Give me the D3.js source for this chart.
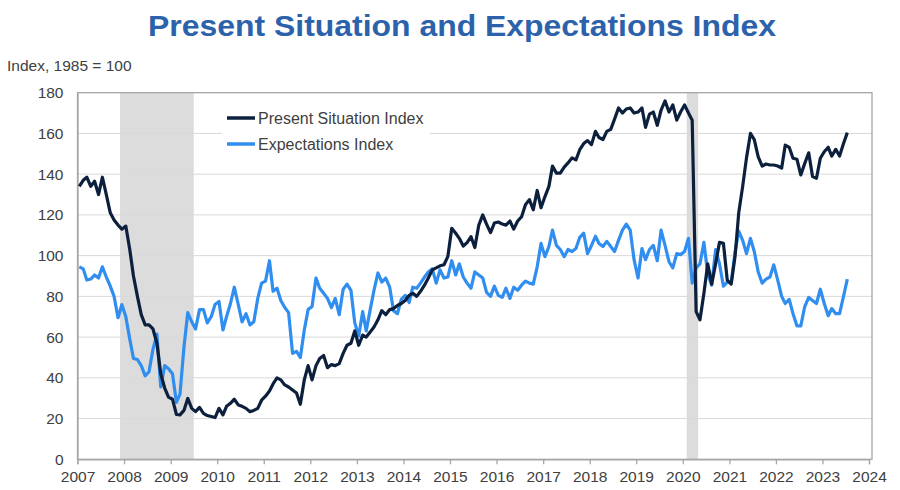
<!DOCTYPE html>
<html>
<head>
<meta charset="utf-8">
<script src="https://cdn.jsdelivr.net/npm/d3@7"></script>
<style>
  body { margin: 0; background: #fff; }
  svg { font-family: "Liberation Sans", Arial, sans-serif; }
</style>
</head>
<body>
<svg width="900" height="490"></svg>
<script>
// monthly values, Jan 2007 .. Jul 2023 (one row per year)
const startYear = 2007;

const presentSituation = [
  134, 137, 138.5, 134, 136.5, 130, 138.5, 130, 121, 117.5, 115, 113,
  114.5, 103, 90, 80, 71, 66, 66, 64, 57, 42, 35, 30.5,
  29.5, 22, 21.8, 24, 29.9, 25, 23.4, 25.5, 22.6, 21.5, 21, 20.5,
  25, 21.8, 26, 27.5, 29.5, 26.7, 26, 25, 23.4, 24, 25, 29,
  31, 33.5, 37, 40, 39, 36.5, 35.5, 34, 32.5, 27, 39, 46,
  39, 46, 49.5, 51, 45, 46.5, 46, 47, 52, 56, 57, 63,
  56, 61, 60, 62.5, 65, 68.5, 73, 71, 73.5, 74, 75.5, 76.5,
  78, 80.5, 81.5, 80, 82.5, 85.5, 89, 93, 94, 95, 95.5, 99.5,
  113.4, 111, 108.5, 104.7, 106.4, 109.3, 104, 115, 120, 115.5, 111.3, 116,
  116.5, 115.5, 115, 117, 113, 117, 119, 125, 127.5, 122.5, 132, 123.5,
  129, 134, 144, 140.5, 140.5, 143.5, 145.5, 148, 147, 152, 155, 156.5,
  154.5, 161, 158, 157, 161, 162, 167, 172.5, 170, 172, 172.5, 170,
  170.5, 172.5, 163, 169.5, 170.5, 164, 171.5, 176, 170.5, 174, 166.5, 170.5,
  174, 170, 166.5, 72.5, 68.5, 81.5, 96, 86, 96, 106.5, 106, 88,
  86, 100, 121, 134, 148, 160, 157, 148.5, 144, 145, 144.5, 144.5,
  144, 143, 154.3, 153.2, 147.8, 147.3, 139.6, 145.3, 150.5, 138.8, 138, 147.8,
  151, 153.2, 148.9, 152.2, 148.9, 155.1, 160.4
];

const expectations = [
  94.5, 93.5, 88, 88.5, 90.5, 89, 94.5, 89.5, 85, 80, 69.5, 76,
  70, 59, 49.5, 49, 46, 41, 43, 54, 61.5, 35.5, 46, 44.5,
  42, 28, 32, 55, 72, 67.5, 64, 73.5, 73.5, 67, 70, 76,
  77.5, 63.5, 70, 76.5, 84.5, 76, 67.5, 71.5, 66, 67.5, 79, 86.5,
  87.5, 97.5, 82.5, 84, 78, 74.5, 72, 52, 53, 50, 63.5, 73.5,
  75, 89, 84, 81.5, 79, 74.5, 79, 71, 83.5, 86, 83, 67,
  60.5, 72.5, 63, 73.5, 83, 91.5, 87, 89, 84.5, 73, 71.5, 78.5,
  80.5, 77, 84.5, 84, 86.5, 89.5, 92, 93.5, 86.5, 93, 89, 89.5,
  97.5, 90.5, 96, 89.5, 86.5, 84, 92, 90.5, 89, 82, 80, 85,
  80.5, 79.5, 84, 79, 84.5, 83, 85.5, 87.5, 86.5, 86, 94.5, 106,
  99.5, 104.5, 112.5, 105, 103, 99.5, 103, 102, 103.5, 109, 111, 101,
  105, 109.5, 106, 104.5, 107, 104.5, 102, 107.5, 112.5, 115.5, 112.5, 98,
  89, 103.5, 98, 103, 105, 97.5, 112.5, 105, 97, 94, 101, 100.5,
  102, 108.5, 86.5, 94, 96, 106.5, 91, 85.5, 103, 96, 85, 87,
  87, 102, 112, 107.5, 101, 108.5, 102, 92, 86.5, 88.5, 89.5, 95.5,
  88, 80, 76.5, 78.5, 71.5, 65.5, 65.5, 75, 79.5, 78, 76.5, 83.5,
  76.5, 70.5, 74, 71.5, 71.5, 80, 88.5
];

// recessions [start, end] as "YYYY-MM" (inclusive months)
const recessions = [["2007-12", "2009-06"], ["2020-02", "2020-04"]];

const yTicks = [0, 20, 40, 60, 80, 100, 120, 140, 160, 180];
const seriesNames = ["Present Situation Index", "Expectations Index"];
const seriesColors = ["#0c203d", "#2f8ef0"];

const svg = d3.select("svg");

const plotL = 77.5, plotR = 869, plotT = 92.7, plotB = 459.3, frameR = 872;

const x = d3.scaleTime()
  .domain([new Date(2007, 0, 1), new Date(2024, 0, 1)])
  .range([plotL, plotR]);
const y = d3.scaleLinear().domain([0, 180]).range([plotB, plotT]);

const monthDate = i => new Date(startYear + Math.floor(i / 12), i % 12, 15);
const parseMonth = d3.timeParse("%Y-%m");

// title
svg.append("text")
  .attr("x", 462).attr("y", 36)
  .attr("text-anchor", "middle")
  .attr("font-size", 30).attr("font-weight", "bold")
  .attr("fill", "#2c62ab")
  .attr("textLength", 628).attr("lengthAdjust", "spacingAndGlyphs")
  .text("Present Situation and Expectations Index");

svg.append("text")
  .attr("x", 7).attr("y", 71)
  .attr("font-size", 15.5).attr("fill", "#404040")
  .text("Index, 1985 = 100");

// recession bars
svg.append("g").selectAll("rect")
  .data(recessions)
  .join("rect")
    .attr("x", d => x(parseMonth(d[0])))
    .attr("width", d => x(d3.timeMonth.offset(parseMonth(d[1]), 1)) - x(parseMonth(d[0])))
    .attr("y", plotT).attr("height", plotB - plotT)
    .attr("fill", "#dcdcdc");

// gridlines
svg.append("g").selectAll("line")
  .data(yTicks.filter(d => d > 0 && d < 180))
  .join("line")
    .attr("x1", plotL).attr("x2", frameR)
    .attr("y1", d => y(d)).attr("y2", d => y(d))
    .attr("stroke", "#d9d9d9").attr("stroke-width", 1);

// frame
svg.append("rect")
  .attr("x", plotL).attr("y", plotT)
  .attr("width", frameR - plotL).attr("height", plotB - plotT)
  .attr("fill", "none").attr("stroke", "#a6a6a6").attr("stroke-width", 1.3);

// axes
const xAxis = svg.append("g")
  .attr("transform", `translate(0,${plotB})`)
  .call(d3.axisBottom(x).ticks(d3.timeYear.every(1)).tickFormat(d3.timeFormat("%Y")).tickSize(5).tickPadding(7));
const yAxis = svg.append("g")
  .attr("transform", `translate(${plotL},0)`)
  .call(d3.axisLeft(y).tickValues(yTicks).tickSize(0).tickPadding(14));

[xAxis, yAxis].forEach(g => {
  g.select(".domain").attr("stroke", "#a6a6a6").attr("stroke-width", 1.3);
  g.selectAll(".tick line").attr("stroke", "#a6a6a6").attr("stroke-width", 1.3);
  g.selectAll("text").attr("font-size", 15.5).attr("fill", "#404040")
    .attr("font-family", "Liberation Sans, Arial, sans-serif");
});

// lines
const line = d3.line()
  .x((d, i) => x(monthDate(i)))
  .y(d => y(d));

[expectations, presentSituation].forEach((s, k) => {
  svg.append("path")
    .datum(s)
    .attr("fill", "none")
    .attr("stroke", seriesColors[1 - k])
    .attr("stroke-width", 3.2)
    .attr("stroke-linejoin", "round")
    .attr("d", line);
});

// legend
const legend = svg.append("g");
legend.append("rect")
  .attr("x", 222).attr("y", 104).attr("width", 208).attr("height", 52)
  .attr("fill", "#fff");
seriesNames.forEach((name, i) => {
  const ly = 118 + i * 26;
  legend.append("line")
    .attr("x1", 227).attr("x2", 255)
    .attr("y1", ly).attr("y2", ly)
    .attr("stroke", seriesColors[i]).attr("stroke-width", 3.5);
  legend.append("text")
    .attr("x", 258).attr("y", ly + 5.5)
    .attr("font-size", 16).attr("fill", "#404040")
    .text(name);
});
</script>
</body>
</html>
